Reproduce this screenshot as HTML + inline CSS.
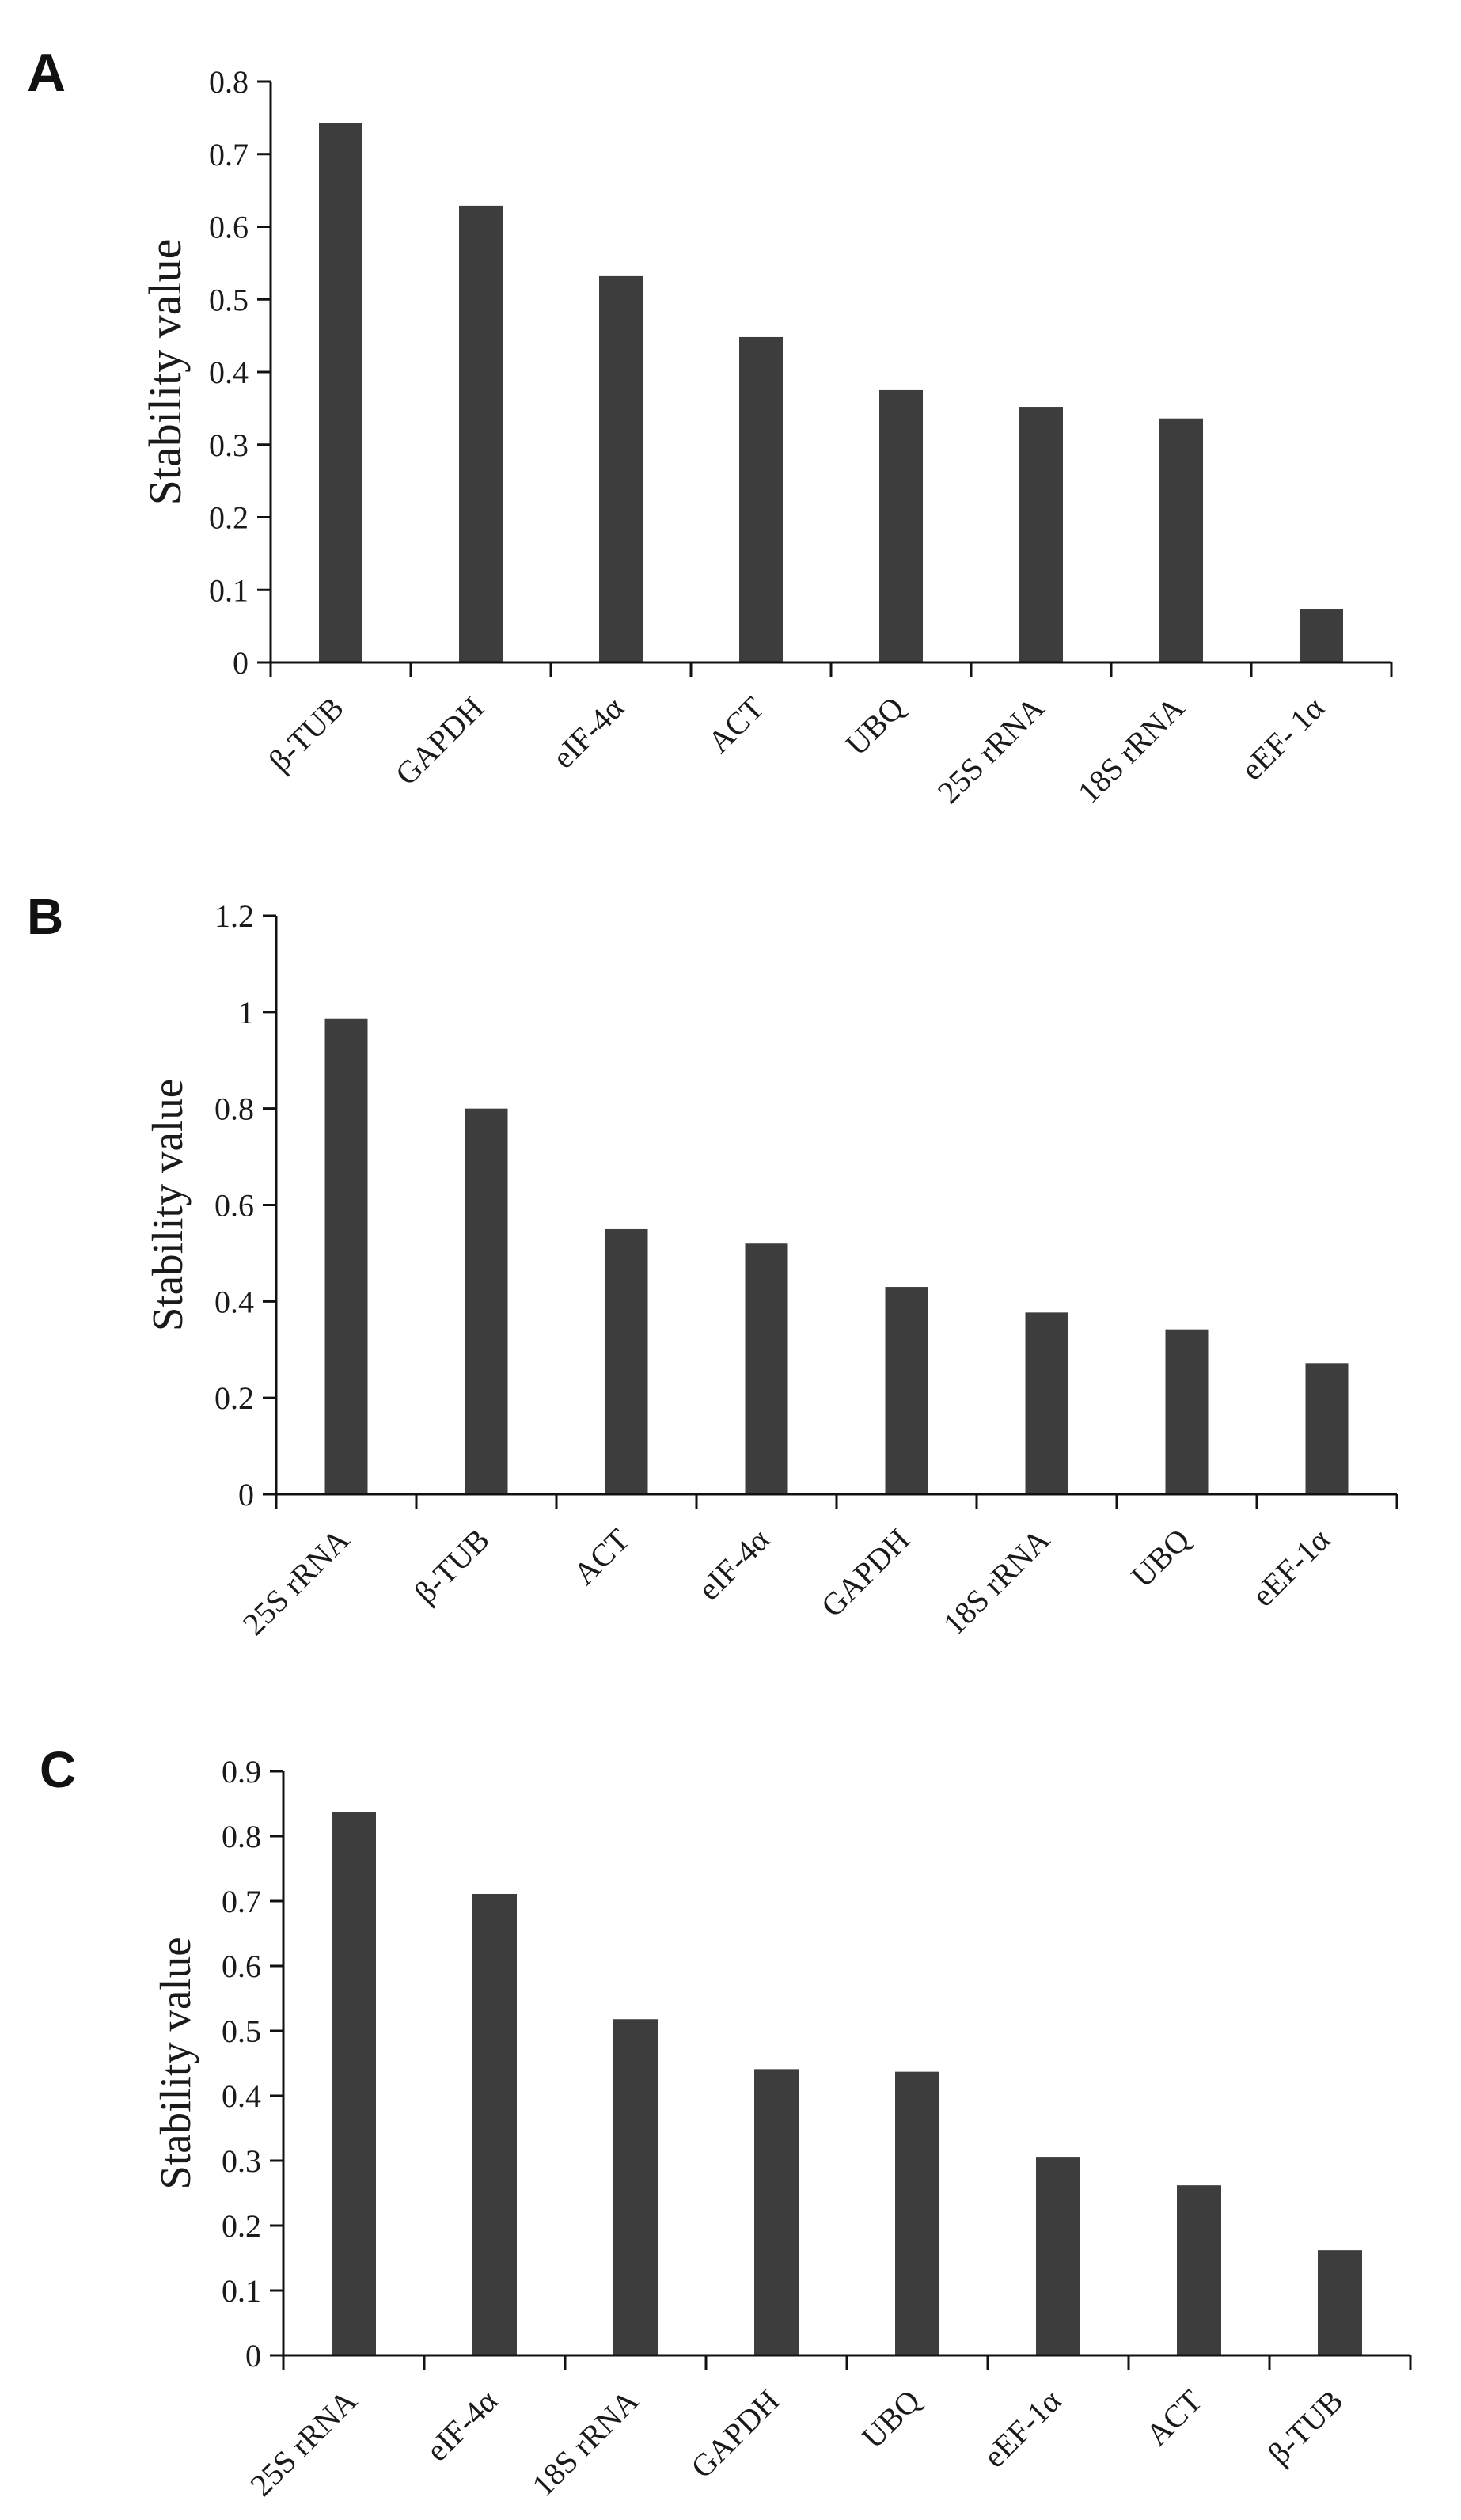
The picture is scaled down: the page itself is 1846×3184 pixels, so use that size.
<!DOCTYPE html>
<html><head><meta charset="utf-8"><style>
html,body{margin:0;padding:0;background:#fff;}
svg{display:block;}
text{font-family:"Liberation Serif",serif;fill:#1a1a1a;}
.letter{font-family:"Liberation Sans",sans-serif;fill:#111;font-weight:bold;}
</style></head><body>
<svg id="fig" width="1846" height="3184" viewBox="0 0 1846 3184" xmlns="http://www.w3.org/2000/svg">
<rect width="1846" height="3184" fill="#fff"/>
<text class="letter" x="34" y="115" font-size="68">A</text>
<text class="letter" x="34" y="1180" font-size="64">B</text>
<text class="letter" x="50" y="2258" font-size="64">C</text>
</svg>
<script>
const catsA = ["β-TUB","GAPDH","eIF-4α","ACT","UBQ","25S rRNA","18S rRNA","eEF- 1α"];
const valsA = [0.743,0.629,0.532,0.448,0.375,0.352,0.336,0.073];
const ticksA = ["0","0.1","0.2","0.3","0.4","0.5","0.6","0.7","0.8"];
const catsB = ["25S rRNA","β-TUB","ACT","eIF-4α","GAPDH","18S rRNA","UBQ","eEF-1α"];
const valsB = [0.987,0.800,0.550,0.520,0.430,0.377,0.342,0.272];
const ticksB = ["0","0.2","0.4","0.6","0.8","1","1.2"];
const catsC = ["25S rRNA","eIF-4α","18S rRNA","GAPDH","UBQ","eEF-1α","ACT","β-TUB"];
const valsC = [0.837,0.711,0.518,0.441,0.437,0.306,0.262,0.162];
const ticksC = ["0","0.1","0.2","0.3","0.4","0.5","0.6","0.7","0.8","0.9"];

const NS="http://www.w3.org/2000/svg";
const svg=document.getElementById('fig');
function mk(tag,attrs,parent){const e=document.createElementNS(NS,tag);for(const k in attrs)e.setAttribute(k,attrs[k]);(parent||svg).appendChild(e);return e;}

function drawChart(id,cats,vals,ticks,ymax,L,T,B,step,barW,titleX,titleSize){
  const g=mk('g',{});
  
  
  const R=L+step*cats.length;
  const y=v=>B-(v/ymax)*(B-T);
  const x=i=>L+step*(i+0.5);
  vals.forEach((v,i)=>{
    const r=mk('rect',{x:x(i)-barW/2,y:y(v),width:barW,height:B-y(v),fill:'#3d3d3d'},g);
    
    
  });
  const ya=mk('line',{x1:L,y1:T,x2:L,y2:B+18,stroke:'#111','stroke-width':3},g);
  
  
  const xa=mk('line',{x1:L-17,y1:B,x2:R,y2:B,stroke:'#111','stroke-width':3},g);
  
  
  ticks.forEach(t=>{
    const v=parseFloat(t), yy=y(v);
    mk('line',{x1:L-17,y1:yy,x2:L,y2:yy,stroke:'#111','stroke-width':3},g);
    const tl=mk('text',{x:L-28,y:yy+14,'font-size':40,'text-anchor':'end'},g);
    tl.textContent=t;
    
    
  });
  for(let i=0;i<=cats.length;i++){
    mk('line',{x1:L+step*i,y1:B,x2:L+step*i,y2:B+18,stroke:'#111','stroke-width':3},g);
  }
  cats.forEach((c,i)=>{
    const cx=x(i)+6, cy=B+60;
    const t=mk('text',{x:cx,y:cy,'font-size':40,'text-anchor':'end',transform:`rotate(-45 ${cx} ${cy})`},g);
    t.textContent=c;
    
    
  });
  const my=(T+B)/2;
  const tt=mk('text',{x:titleX,y:my,'font-size':titleSize,'text-anchor':'middle',transform:`rotate(-90 ${titleX} ${my})`},g);
  tt.textContent='Stability value';
  
  
}
drawChart('panel-a',catsA,valsA,ticksA,0.8,342,103,837,177,55,228,58);
drawChart('panel-b',catsB,valsB,ticksB,1.2,349,1157,1888,177,54,230,55);
drawChart('panel-c',catsC,valsC,ticksC,0.9,358,2238,2976,178,56,240,55);
</script>
</body></html>
